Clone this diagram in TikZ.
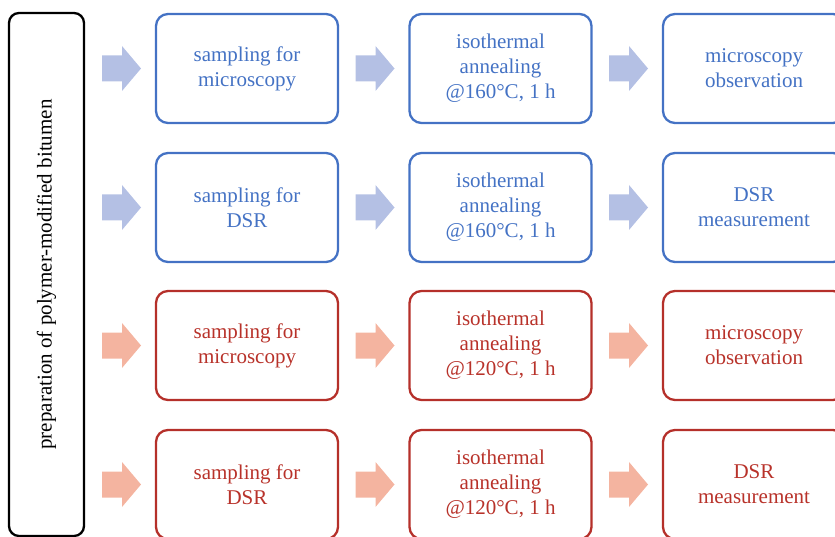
\documentclass[tikz,border=0pt]{standalone}
\usepackage{fontspec}
\setmainfont{Liberation Serif}
\definecolor{bline}{HTML}{4472C4}
\definecolor{bfill}{HTML}{B4C0E4}
\definecolor{rline}{HTML}{B5302A}
\definecolor{rtext}{HTML}{B8322A}
\definecolor{rfill}{HTML}{F4B4A0}
\tikzset{
  stepbox/.style={draw, line width=2.3pt, rounded corners=12pt, minimum width=182pt, minimum height=109pt, align=center, font=\fontsize{21}{25}\selectfont, inner sep=0pt},
  bluebox/.style={stepbox, draw=bline, text=bline},
  redbox/.style={stepbox, draw=rline, text=rtext},
  blockarrow/.pic={\fill[pic actions] (-19.5,-13) -- (0.5,-13) -- (0.5,-22.5) -- (19.5,0) -- (0.5,22.5) -- (0.5,13) -- (-19.5,13) -- cycle;}
}
\begin{document}
\begin{tikzpicture}[x=1pt,y=-1pt]
\useasboundingbox (0,0) rectangle (835,537);
\clip (0,0) rectangle (835,537);
\node[draw=black, line width=2.3pt, rounded corners=10pt, minimum width=75pt, minimum height=523pt, inner sep=0pt] (prep) at (46.5,274.5) {};
\node[rotate=90, font=\fontsize{21}{25}\selectfont] (preptext) at (prep.center) {preparation of polymer-modified bitumen};
% rows
\foreach \r/\y/\st/\af/\a/\b/\c in {
  1/68.5/bluebox/bfill/{sampling for\\microscopy}/{isothermal\\annealing\\@160°C, 1 h}/{microscopy\\observation},
  2/207.5/bluebox/bfill/{sampling for\\DSR}/{isothermal\\annealing\\@160°C, 1 h}/{DSR\\measurement},
  3/345.5/redbox/rfill/{sampling for\\microscopy}/{isothermal\\annealing\\@120°C, 1 h}/{microscopy\\observation},
  4/484.5/redbox/rfill/{sampling for\\DSR}/{isothermal\\annealing\\@120°C, 1 h}/{DSR\\measurement}}{
  \node[\st] (s\r) at (247,\y) {\a};
  \node[\st] (t\r) at (500.5,\y) {\b};
  \node[\st] (m\r) at (754,\y) {\c};
  \pic[fill=\af] at (121.5,\y) {blockarrow};
  \pic[fill=\af] at (375,\y) {blockarrow};
  \pic[fill=\af] at (628.5,\y) {blockarrow};
}
\end{tikzpicture}
\end{document}
